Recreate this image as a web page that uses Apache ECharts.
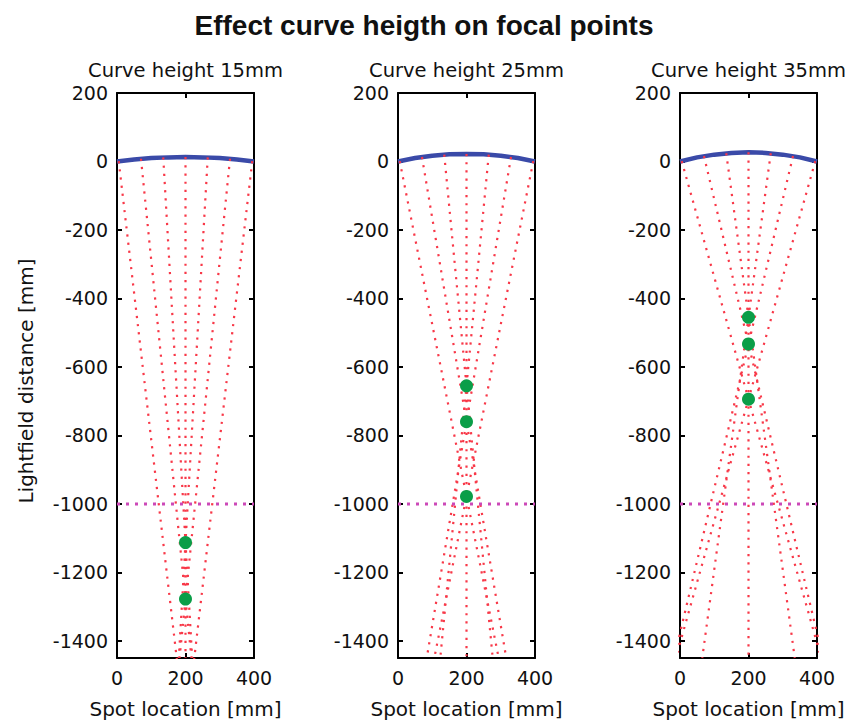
<!DOCTYPE html>
<html>
<head>
<meta charset="utf-8">
<script src="https://cdn.jsdelivr.net/npm/echarts@6/dist/echarts.min.js"></script>
<style>
  html, body { margin: 0; padding: 0; background: #fff; }
  #chart { width: 847px; height: 722px; }
</style>
</head>
<body>
<div id="chart"></div>
<script>
// ---------------- data ----------------
const mainTitle = 'Effect curve heigth on focal points';
const panelTitles = ['Curve height 15mm', 'Curve height 25mm', 'Curve height 35mm'];
const xAxisName = 'Spot location [mm]';
const yAxisName = 'Lightfield distance [mm]';

const xTicks = [0, 200, 400];
const yTicks = [-1400, -1200, -1000, -800, -600, -400, -200, 0, 200];
const xRange = [0, 400];
const yRange = [-1450, 200];

// curved surface (blue) sampled along x
const curveX = [0, 50, 100, 150, 200, 250, 300, 350, 400];
const curveY15 = [0, 6, 10, 12, 13, 12, 10, 6, 0];
const curveY25 = [0, 10, 17, 21, 22, 21, 17, 10, 0];
const curveY35 = [0, 12, 20, 25, 27, 25, 20, 12, 0];

// light spots on the curve (ray origins)
const spotX = [5, 70, 135, 200, 265, 330, 395];
const spotY15 = [1, 8, 12, 13, 12, 8, 1];
const spotY25 = [1, 13, 20, 22, 20, 13, 1];
const spotY35 = [1, 16, 24, 27, 24, 16, 1];

// focal points (green) at x = focusX: [inner pair, middle pair, outer pair]
const focusX = 200;
const focal15 = [-1113, -1278, -1670];
const focal25 = [-655, -760, -978];
const focal35 = [-455, -533, -694];

// reference plane (magenta dotted)
const refPlaneY = -1000;

// ---------------- layout ----------------
const gridLefts = [117, 398, 680];
const gridW = 137, gridTop = 93, gridH = 565;
const FONT = '"DejaVu Sans", "Liberation Sans", Arial, sans-serif';
const TFONT = '"Liberation Sans", Arial, Helvetica, sans-serif';

const curves = [curveY15, curveY25, curveY35];
const spotsY = [spotY15, spotY25, spotY35];
const focals = [focal15, focal25, focal35];

const grids = [], xAxes = [], yAxes = [], series = [], graphics = [];

function rayLine(x0, y0, fy) {
  // straight ray from spot through focal point, continued to bottom of axis
  const yEnd = yRange[0];
  const xEnd = x0 + (focusX - x0) * (yEnd - y0) / (fy - y0);
  return [[x0, y0], [focusX, fy], [xEnd, yEnd]];
}

const plain = v => String(v);

for (let p = 0; p < 3; p++) {
  grids.push({ left: gridLefts[p], top: gridTop, width: gridW, height: gridH, show: false });

  const axisLine = { show: true, onZero: false, lineStyle: { color: '#000', width: 2 } };
  const tickX = { show: true, inside: true, length: 5, customValues: xTicks, lineStyle: { color: '#000', width: 2 } };
  const tickY = { show: true, inside: true, length: 5, customValues: yTicks, lineStyle: { color: '#000', width: 2 } };

  xAxes.push({
    gridIndex: p, type: 'value', position: 'bottom', min: xRange[0], max: xRange[1],
    axisLine, axisTick: tickX, splitLine: { show: false },
    axisLabel: { show: true, customValues: xTicks, formatter: plain, margin: 10, color: '#111', fontSize: 19, fontFamily: FONT }
  });
  xAxes.push({
    gridIndex: p, type: 'value', position: 'top', min: xRange[0], max: xRange[1],
    axisLine, axisTick: tickX, splitLine: { show: false }, axisLabel: { show: false }
  });
  yAxes.push({
    gridIndex: p, type: 'value', position: 'left', min: yRange[0], max: yRange[1],
    axisLine, axisTick: tickY, splitLine: { show: false },
    axisLabel: { show: true, customValues: yTicks, formatter: plain, margin: 9, color: '#111', fontSize: 19, fontFamily: FONT }
  });
  yAxes.push({
    gridIndex: p, type: 'value', position: 'right', min: yRange[0], max: yRange[1],
    axisLine, axisTick: tickY, splitLine: { show: false }, axisLabel: { show: false }
  });

  const xi = p * 2, yi = p * 2;

  // blue curved surface
  series.push({
    type: 'line', xAxisIndex: xi, yAxisIndex: yi, symbol: 'none', silent: true,
    data: curveX.map((x, i) => [x, curves[p][i]]),
    lineStyle: { color: '#3a4aa8', width: 4.5 }, z: 2
  });

  // rays
  spotX.forEach((x0, i) => {
    const k = Math.abs(i - 3);
    const y0 = spotsY[p][i];
    const data = k === 0 ? [[x0, y0], [x0, yRange[0]]] : rayLine(x0, y0, focals[p][k - 1]);
    series.push({
      type: 'line', xAxisIndex: xi, yAxisIndex: yi, symbol: 'none', silent: true,
      data, clip: true,
      lineStyle: { color: '#f83848', width: 2.2, type: [2.2, 6], opacity: 1 }, z: 3
    });
  });

  // reference plane
  series.push({
    type: 'line', xAxisIndex: xi, yAxisIndex: yi, symbol: 'none', silent: true,
    data: [[xRange[0], refPlaneY], [xRange[1], refPlaneY]],
    lineStyle: { color: '#cc48b8', width: 3, type: [3, 6] }, z: 4
  });

  // focal points
  series.push({
    type: 'scatter', xAxisIndex: xi, yAxisIndex: yi, silent: true, clip: true,
    symbol: 'circle', symbolSize: 13,
    data: focals[p].map(f => [focusX, f]),
    itemStyle: { color: '#0a9e48', opacity: 1 }, z: 5
  });

  // panel title & x-axis name
  const cx = gridLefts[p] + gridW / 2;
  graphics.push({
    type: 'text', x: cx, y: 70,
    style: { text: panelTitles[p], font: '19.5px ' + FONT, fill: '#111',
             align: 'center', verticalAlign: 'middle', textAlign: 'center', textVerticalAlign: 'middle' }
  });
  graphics.push({
    type: 'text', x: cx, y: 709,
    style: { text: xAxisName, font: '20px ' + FONT, fill: '#111',
             align: 'center', verticalAlign: 'middle', textAlign: 'center', textVerticalAlign: 'middle' }
  });
}

graphics.push({
  type: 'text', x: 424, y: 25,
  style: { text: mainTitle, font: 'bold 28px ' + TFONT, fill: '#111',
           align: 'center', verticalAlign: 'middle', textAlign: 'center', textVerticalAlign: 'middle' }
});
graphics.push({
  type: 'text', x: 26, y: 381, rotation: Math.PI / 2,
  style: { text: yAxisName, font: '20px ' + FONT, fill: '#111',
           align: 'center', verticalAlign: 'middle', textAlign: 'center', textVerticalAlign: 'middle' }
});

const chart = echarts.init(document.getElementById('chart'), null, { renderer: 'svg' });
chart.setOption({
  backgroundColor: '#fff',
  animation: false,
  grid: grids,
  xAxis: xAxes,
  yAxis: yAxes,
  series,
  graphic: graphics
});
</script>
</body>
</html>
